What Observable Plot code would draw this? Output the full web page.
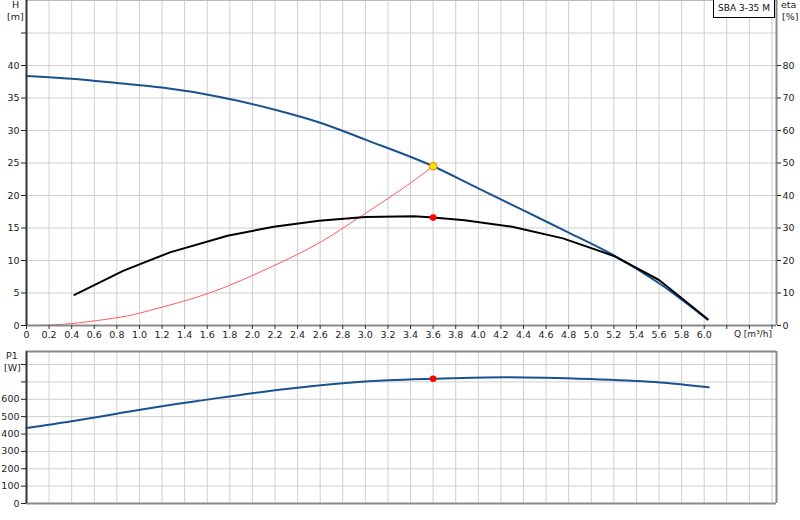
<!DOCTYPE html>
<html><head><meta charset="utf-8">
<script src="https://cdn.jsdelivr.net/npm/d3@7"></script>
<script src="https://cdn.jsdelivr.net/npm/@observablehq/plot@0.6"></script>
<style>
body{margin:0;background:#fff;}
#wrap{position:relative;width:800px;height:520px;overflow:hidden;font-family:"DejaVu Sans",sans-serif;background:#fff;}
.lbl{position:absolute;font-size:9.5px;line-height:9.5px;color:#222;white-space:nowrap;}
#top,#bot{position:absolute;left:0;}
#box{position:absolute;left:713px;top:-1px;width:62px;height:19px;border:1px solid #000;background:#fff;font-size:9px;line-height:9px;color:#111;box-sizing:border-box;padding:4px 0 0 4px;white-space:nowrap;}
</style></head><body>
<div id="wrap">
  <div id="top" style="top:0px"></div>
  <div id="bot" style="top:345px"></div>
  <div class="lbl" style="left:12px;top:0px">H</div>
  <div class="lbl" style="left:7px;top:12px">[m]</div>
  <div class="lbl" style="left:781px;top:0px">eta</div>
  <div class="lbl" style="left:782px;top:12px">[%]</div>
  <div class="lbl" style="left:6px;top:351px">P1</div>
  <div class="lbl" style="left:4px;top:363px">[W]</div>
  <div class="lbl" style="right:28px;top:329.5px;font-size:9px">Q [m³/h]</div>
  <div id="box">SBA 3-35 M</div>
</div>
<script>
// ---- data ----
const qMax = 6.64;            // right end of Q axis
const hMax = 50;              // top of H axis
const pMax = 875;             // top of P1 axis
const etaPerH = 2;            // eta [%] = 2 x H [m] on the shared axis

const xTicks = d3.range(0, 34).map(i => i / 5);     // 0 .. 6.6 step 0.2
const hTicks = d3.range(0, 11).map(i => i * 5);     // 0 .. 50 step 5
const pTicks = d3.range(0, 9).map(i => i * 100);    // 0 .. 800 step 100

// pump curve H(Q)
const qH = [0, 0.4, 0.8, 1.2, 1.7, 2.2, 2.6, 3.0, 3.6, 4.0, 4.4, 4.8, 5.2, 5.6, 6.03];
const hH = [38.4, 37.95, 37.3, 36.6, 35.2, 33.2, 31.2, 28.6, 24.5, 21.1, 17.7, 14.3, 10.8, 6.5, 0.9];

// efficiency eta(Q) [%]
const qEta = [0.425, 0.86, 1.27, 1.78, 2.19, 2.59, 3.0, 3.43, 3.6, 3.88, 4.30, 4.75, 5.2, 5.6, 6.03];
const eta  = [9.4, 16.9, 22.5, 27.6, 30.4, 32.2, 33.4, 33.6, 33.2, 32.4, 30.4, 26.8, 21.4, 14.0, 2.0];

// system curve
const qSys = [0, 0.4, 0.8, 1.0, 1.44, 1.8, 2.19, 2.6, 2.96, 3.3, 3.6];
const hSys = [0, 0.3, 1.2, 1.9, 4.0, 6.2, 9.2, 12.8, 16.8, 20.7, 24.5];

// power P1(Q) [W]
const qP1 = [0, 0.4, 0.8, 1.2, 1.6, 2.0, 2.4, 2.8, 3.2, 3.6, 4.24, 5.0, 5.61, 6.04];
const p1  = [434, 473, 517, 560, 598, 635, 666, 692, 709, 718, 727, 716, 697, 669];

// duty point
const duty = {q: 3.6, h: 24.5, eta: 33.2, p1: 718};

const zip = (a, b) => a.map((v, i) => ({x: v, y: b[i]}));
const dataH = zip(qH, hH), dataEta = zip(qEta, eta), dataSys = zip(qSys, hSys), dataP = zip(qP1, p1);

const blue = "#1a5290", grid = "#cfcfcf", frameGray = "#8a8a8a", axisDark = "#333";
const fmtQ = d => d > 6.01 ? "" : (d === 0 ? "0" : d.toFixed(1));
const style = {fontFamily: "DejaVu Sans, sans-serif", fontSize: "9.5px", color: "#222", background: "transparent", overflow: "visible"};

const topPlot = Plot.plot({
  width: 800, height: 345,
  marginLeft: 26, marginRight: 24, marginTop: 0, marginBottom: 20,
  style,
  x: {domain: [0, qMax], label: null},
  y: {domain: [0, hMax], label: null},
  marks: [
    Plot.ruleX(xTicks.filter(d => d > 0), {stroke: grid}),
    Plot.ruleY(hTicks.filter(d => d > 0 && d < hMax), {stroke: grid}),
    Plot.ruleY([hMax], {stroke: "#bbb"}),
    Plot.line(dataSys, {x: "x", y: "y", stroke: "#ff5c5c", strokeWidth: 1, curve: "natural"}),
    Plot.line(dataH, {x: "x", y: "y", stroke: blue, strokeWidth: 2, curve: "monotone-x"}),
    Plot.line(dataEta, {x: "x", y: d => d.y / etaPerH, stroke: "#000", strokeWidth: 2}),
    Plot.ruleY([0], {stroke: frameGray, strokeWidth: 2}),
    Plot.ruleX([qMax], {stroke: frameGray, strokeWidth: 2}),
    Plot.ruleX([0], {stroke: axisDark, strokeWidth: 2}),
    Plot.axisX(xTicks, {tickFormat: fmtQ, tickSize: 4, tickPadding: 2, stroke: axisDark, label: null}),
    Plot.axisY(hTicks.filter(d => d < hMax), {anchor: "left", tickSize: 5, tickPadding: 2, tickFormat: d => d <= 40 ? String(d) : "", label: null}),
    Plot.axisY(hTicks.filter(d => d <= 40), {anchor: "right", tickSize: 4, tickPadding: 2, tickFormat: d => String(d * etaPerH), label: null}),
    Plot.dot([duty], {x: "q", y: d => d.eta / etaPerH, r: 3.3, fill: "#ff0000"}),
    Plot.dot([duty], {x: "q", y: "h", r: 3.8, fill: "#ffe600", stroke: "#ff7a00", strokeWidth: 1})
  ]
});
document.getElementById("top").append(topPlot);

const botPlot = Plot.plot({
  width: 800, height: 175,
  marginLeft: 26, marginRight: 24, marginTop: 6, marginBottom: 17,
  style,
  x: {domain: [0, qMax], label: null, axis: null},
  y: {domain: [0, pMax], label: null},
  marks: [
    Plot.ruleX(xTicks.filter(d => d > 0), {stroke: grid}),
    Plot.ruleY(pTicks.filter(d => d > 0), {stroke: grid}),
    Plot.line(dataP, {x: "x", y: "y", stroke: blue, strokeWidth: 2, curve: "monotone-x"}),
    Plot.ruleY([0], {stroke: frameGray, strokeWidth: 2}),
    Plot.ruleY([pMax], {stroke: frameGray, strokeWidth: 2}),
    Plot.ruleX([qMax], {stroke: frameGray, strokeWidth: 2}),
    Plot.ruleX([0], {stroke: axisDark, strokeWidth: 2}),
    Plot.axisY(pTicks, {anchor: "left", tickSize: 5, tickPadding: 2, tickFormat: d => d <= 600 ? String(d) : "", label: null}),
    Plot.dot([duty], {x: "q", y: "p1", r: 3.3, fill: "#ff0000"})
  ]
});
document.getElementById("bot").append(botPlot);
</script>
</body></html>
